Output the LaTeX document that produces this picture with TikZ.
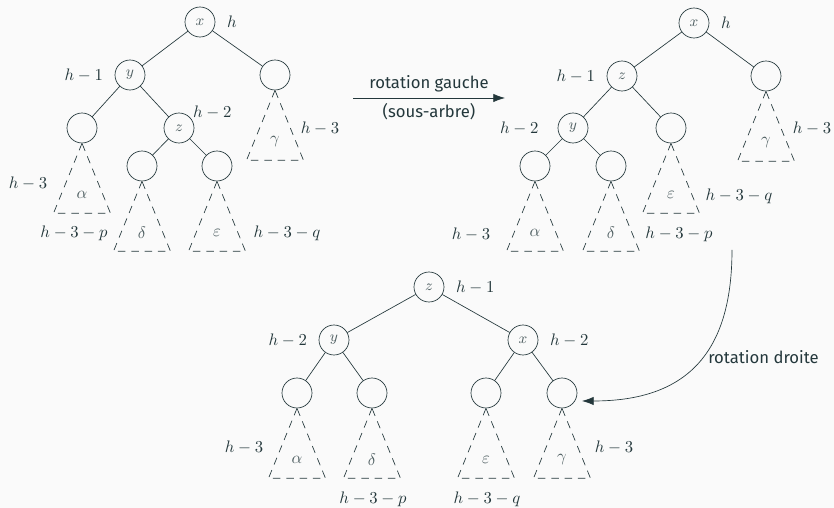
\documentclass[tikz,border=0pt]{standalone}
\usepackage{fontspec}
\setsansfont{Fira Sans}
\usetikzlibrary{arrows.meta}
\definecolor{mDarkTeal}{HTML}{23373B}
\definecolor{mBack}{HTML}{FAFAFA}

\begin{document}
\begin{tikzpicture}[x=0.6pt, y=0.6pt, color=mDarkTeal, label distance=3.5pt,
    main/.style = {draw, circle, minimum size=18pt, inner sep=0pt, font=\small, text=mDarkTeal!80},
    sub/.style = {draw, dash pattern=on 4.5pt off 3.5pt},
    greek/.style = {text=mDarkTeal!80},
    rot/.style = {-{Latex[length=7pt,width=5pt]}, font=\sffamily}]
  \fill[mBack] (0,0) rectangle (834,-508);
  \useasboundingbox (0,0) rectangle (834,-508);

  % avant
  \node[main] (x1) at (200,-22) [label=right:$h$] {$x$};
  \node[main] (y1) at (130,-75) [label=left:$h-1$] {$y$};
  \node[main] (g1) at (275,-75) {};
  \node[main] (a1) at (82,-128) {};
  \node[main] (z1) at (179,-128) [label={[xshift=-4pt,yshift=-7pt]45:$h-2$}] {$z$};
  \node[main] (d1) at (142,-166) {};
  \node[main] (e1) at (217,-166) {};
  \draw (x1) -- (y1);
  \draw (x1) -- (g1);
  \draw (y1) -- (a1);
  \draw (y1) -- (z1);
  \draw (z1) -- (d1);
  \draw (z1) -- (e1);
  \draw[sub] (a1.south) -- ++(-28.5,-70) -- ++(57,0) -- cycle;
  \draw[sub] (d1.south) -- ++(-28.5,-70) -- ++(57,0) -- cycle;
  \draw[sub] (e1.south) -- ++(-28.5,-70) -- ++(57,0) -- cycle;
  \draw[sub] (g1.south) -- ++(-28.5,-70) -- ++(57,0) -- cycle;
  \node[greek] (al1) at ([yshift=-40pt]a1) {$\alpha$};
  \node[greek] (de1) at ([yshift=-40pt]d1) {$\delta$};
  \node[greek] (ep1) at ([yshift=-40pt]e1) {$\varepsilon$};
  \node[greek] (ga1) at ([yshift=-40pt]g1) {$\gamma$};
  \node (hA1) at (28,-183) {$h-3$};
  \node (hD1) at (74,-233) {$h-3-p$};
  \node (hE1) at (287,-233) {$h-3-q$};
  \node (hG1) at (320,-128) {$h-3$};

  % rotation gauche
  \coordinate (r1a) at (353,-98);
  \coordinate (r1b) at (505,-98);
  \draw[rot] (r1a) -- node[above] {rotation gauche} node[below] {(sous-arbre)} (r1b);

  % apres rotation gauche
  \node[main] (x2) at (694,-23) [label=right:$h$] {$x$};
  \node[main] (z2) at (622,-76) [label=left:$h-1$] {$z$};
  \node[main] (g2) at (766,-76) {};
  \node[main] (y2) at (573,-128) [label={[label distance=8pt]left:$h-2$}] {$y$};
  \node[main] (e2) at (671,-128) {};
  \node[main] (a2) at (535,-166) {};
  \node[main] (d2) at (611,-166) {};
  \draw (x2) -- (z2);
  \draw (x2) -- (g2);
  \draw (z2) -- (y2);
  \draw (z2) -- (e2);
  \draw (y2) -- (a2);
  \draw (y2) -- (d2);
  \draw[sub] (a2.south) -- ++(-28.5,-70) -- ++(57,0) -- cycle;
  \draw[sub] (d2.south) -- ++(-28.5,-70) -- ++(57,0) -- cycle;
  \draw[sub] (e2.south) -- ++(-28.5,-70) -- ++(57,0) -- cycle;
  \draw[sub] (g2.south) -- ++(-28.5,-70) -- ++(57,0) -- cycle;
  \node[greek] (al2) at ([yshift=-40pt]a2) {$\alpha$};
  \node[greek] (de2) at ([yshift=-40pt]d2) {$\delta$};
  \node[greek] (ep2) at ([yshift=-40pt]e2) {$\varepsilon$};
  \node[greek] (ga2) at ([yshift=-40pt]g2) {$\gamma$};
  \node (hA2) at (471,-234) {$h-3$};
  \node (hD2) at (679,-234) {$h-3-p$};
  \node (hE2) at (739,-196) {$h-3-q$};
  \node (hG2) at (812,-128) {$h-3$};

  % rotation droite
  \coordinate (r2a) at (732,-250);
  \coordinate (r2b) at (582,-401);
  \draw[rot] (r2a) to[out=-90, in=0, looseness=1.25]
    node[pos=0.45, right, inner sep=3pt] {rotation droite} (r2b);

  % resultat
  \node[main] (z3) at (429,-287) [label=right:$h-1$] {$z$};
  \node[main] (y3) at (334,-340) [label=left:$h-2$] {$y$};
  \node[main] (x3) at (523,-340) [label=right:$h-2$] {$x$};
  \node[main] (a3) at (297,-393) {};
  \node[main] (d3) at (372,-393) {};
  \node[main] (e3) at (486,-393) {};
  \node[main] (g3) at (562,-393) {};
  \draw (z3) -- (y3);
  \draw (z3) -- (x3);
  \draw (y3) -- (a3);
  \draw (y3) -- (d3);
  \draw (x3) -- (e3);
  \draw (x3) -- (g3);
  \draw[sub] (a3.south) -- ++(-28.5,-70) -- ++(57,0) -- cycle;
  \draw[sub] (d3.south) -- ++(-28.5,-70) -- ++(57,0) -- cycle;
  \draw[sub] (e3.south) -- ++(-28.5,-70) -- ++(57,0) -- cycle;
  \draw[sub] (g3.south) -- ++(-28.5,-70) -- ++(57,0) -- cycle;
  \node[greek] (al3) at ([yshift=-40pt]a3) {$\alpha$};
  \node[greek] (de3) at ([yshift=-40pt]d3) {$\delta$};
  \node[greek] (ep3) at ([yshift=-40pt]e3) {$\varepsilon$};
  \node[greek] (ga3) at ([yshift=-40pt]g3) {$\gamma$};
  \node (hA3) at (244,-447) {$h-3$};
  \node (hD3) at (373,-499) {$h-3-p$};
  \node (hE3) at (487,-499) {$h-3-q$};
  \node (hG3) at (614,-447) {$h-3$};
\end{tikzpicture}
\end{document}
